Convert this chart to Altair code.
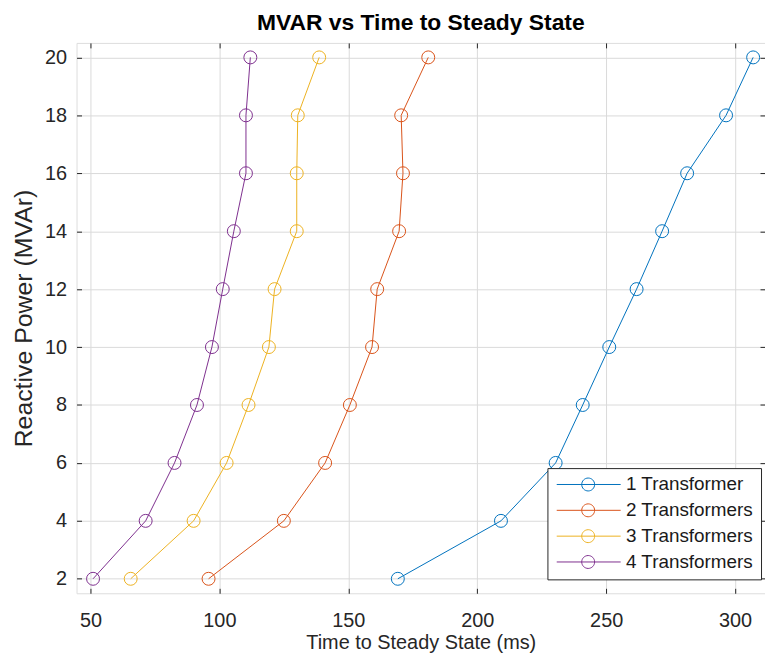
import altair as alt
import pandas as pd

# ---- data ----
power = [2, 4, 6, 8, 10, 12, 14, 16, 18, 20]
series_names = ["1 Transformer", "2 Transformers", "3 Transformers", "4 Transformers"]
time_1 = [169.2, 209.2, 230.4, 240.9, 251.2, 261.8, 271.7, 281.4, 296.5, 307.0]
time_2 = [95.8, 125.0, 141.0, 150.6, 159.2, 161.2, 169.7, 171.2, 170.5, 181.0]
time_3 = [65.6, 90.0, 102.8, 111.3, 119.2, 121.4, 130.0, 130.0, 130.4, 138.7]
time_4 = [51.0, 71.4, 82.6, 91.3, 97.1, 101.3, 105.6, 110.3, 110.3, 112.0]
x_ticks = [50, 100, 150, 200, 250, 300]
y_ticks = [2, 4, 6, 8, 10, 12, 14, 16, 18, 20]
colors = ["#0072BD", "#D95319", "#EDB120", "#7E2F8E"]

rows = []
for name, times in zip(series_names, [time_1, time_2, time_3, time_4]):
    for p, t in zip(power, times):
        rows.append({"series": name, "power": p, "time": t})
df = pd.DataFrame(rows)

FONT = "Liberation Sans"
TXT = "#262626"
GRID = "#dadada"

x_scale = alt.Scale(domain=[44.6, 311.6], nice=False, zero=False)
y_scale = alt.Scale(domain=[1.5, 20.5], nice=False, zero=False)
color_scale = alt.Scale(domain=series_names, range=colors)

legend_symbol = "M-1.1,0 L8.8,0 M4.77,0 A1,1 0 1,1 2.77,0 A1,1 0 1,1 4.77,0"

legend = alt.Legend(
    title=None, orient="none", legendX=474, legendY=428,
    symbolType=legend_symbol, symbolSize=169, symbolStrokeWidth=1,
    symbolFillColor="transparent",
    labelFontSize=19, labelFont=FONT, labelColor="#1a1a1a",
    labelOffset=53, padding=7, rowPadding=6,
    strokeColor=TXT, fillColor="white", cornerRadius=0,
)

x_main = alt.Axis(
    title="Time to Steady State (ms)", values=x_ticks, orient="bottom",
    offset=-5, tickSize=5, tickColor=TXT, tickWidth=1, domain=False,
    grid=True, gridColor=GRID, gridWidth=1,
    labelPadding=17, labelFontSize=20, labelFont=FONT, labelColor=TXT,
    titleFontSize=20, titleFont=FONT, titleColor=TXT, titleFontWeight="normal",
    titlePadding=3,
)
y_main = alt.Axis(
    title="Reactive Power (MVAr)", values=y_ticks, orient="left",
    offset=-5, tickSize=5, tickColor=TXT, tickWidth=1, domain=False,
    grid=True, gridColor=GRID, gridWidth=1,
    labelPadding=10, labelFontSize=20, labelFont=FONT, labelColor=TXT,
    titleFontSize=25, titleFont=FONT, titleColor=TXT, titleFontWeight="normal",
    titlePadding=8,
)
x_top = alt.Axis(
    title=None, values=x_ticks, orient="top", offset=-5, tickSize=5,
    tickColor=TXT, tickWidth=1, domain=False, grid=False, labels=False,
)
y_right = alt.Axis(
    title=None, values=y_ticks, orient="right", offset=-5, tickSize=5,
    tickColor=TXT, tickWidth=1, domain=False, grid=False, labels=False,
)

lines = alt.Chart(df).mark_line(strokeWidth=1).encode(
    x=alt.X("time:Q", scale=x_scale, axis=x_main),
    y=alt.Y("power:Q", scale=y_scale, axis=y_main),
    color=alt.Color("series:N", scale=color_scale, legend=legend),
    order=alt.Order("power:Q"),
)

points = alt.Chart(df).mark_point(
    shape="circle", filled=False, size=170, strokeWidth=1, opacity=1
).encode(
    x=alt.X("time:Q", scale=x_scale, axis=x_top),
    y=alt.Y("power:Q", scale=y_scale, axis=y_right),
    color=alt.Color("series:N", scale=color_scale, legend=legend),
)

chart = alt.layer(lines, points).resolve_axis(
    x="independent", y="independent"
).properties(
    width=693, height=554,
    autosize=alt.AutoSizeParams(type="none"),
    padding={"left": 69, "top": 33, "right": 0, "bottom": 62},
    title=alt.TitleParams(
        "MVAR vs Time to Steady State", font=FONT, fontSize=23,
        fontWeight="bold", color="#000000", offset=8, anchor="middle",
        frame="group",
    ),
).configure_view(stroke=TXT, strokeWidth=1).configure(background="white")

chart.save("out.html", embed_options={"renderer": "svg", "actions": False})
